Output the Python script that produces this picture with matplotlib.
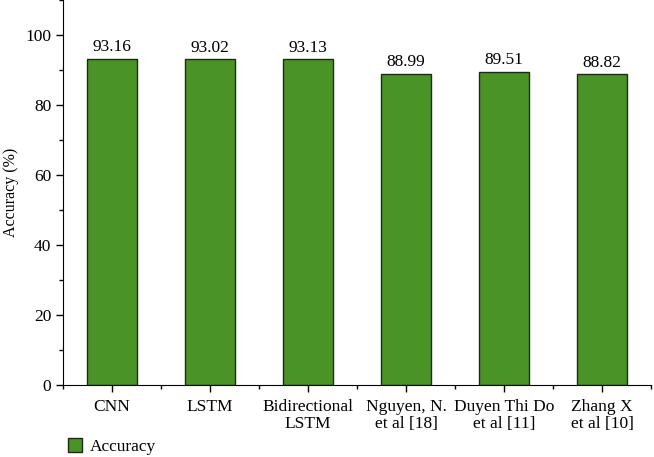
import matplotlib
matplotlib.use("Agg")
import matplotlib.pyplot as plt
from matplotlib.ticker import FixedLocator
from matplotlib.patches import Patch

categories = ["CNN", "LSTM", "Bidirectional\nLSTM", "Nguyen, N.\net al [18]",
              "Duyen Thi Do\net al [11]", "Zhang X\net al [10]"]
accuracy = [93.16, 93.02, 93.13, 88.99, 89.51, 88.82]
labels = ["93.16", "93.02", "93.13", "88.99", "89.51", "88.82"]

plt.rcParams['font.family'] = ['Liberation Serif', 'DejaVu Serif']
fig = plt.figure(figsize=(6.54, 4.57), dpi=100)
ax = fig.add_axes([63/654, 1-385/457, (651-63)/654, 385/457])

fs = 12.5
color = "#4a9326"
x = list(range(len(categories)))
ax.bar(x, accuracy, width=0.51, color=color, edgecolor="#1e2a14", linewidth=1.0)
for xi, v, lab in zip(x, accuracy, labels):
    ax.text(xi, v + 1.0, lab, ha="center", va="bottom", fontsize=fs)

ax.set_xlim(-0.5, len(categories) - 0.5)
ax.set_ylim(0, 110)
ax.yaxis.set_major_locator(FixedLocator([0, 20, 40, 60, 80, 100]))
ax.yaxis.set_minor_locator(FixedLocator([10, 30, 50, 70, 90, 110]))
ax.set_xticks(x)
ax.set_xticklabels(categories, fontsize=fs, linespacing=1.1)
ax.xaxis.set_minor_locator(FixedLocator([i - 0.5 for i in range(len(categories) + 1)]))
ax.tick_params(axis="both", which="major", direction="out", length=5, width=1, labelsize=fs)
ax.tick_params(axis="x", which="major", pad=5)
ax.tick_params(axis="both", which="minor", direction="out", length=3, width=1)
ax.spines["top"].set_visible(False)
ax.spines["right"].set_visible(False)
ax.set_ylabel("Accuracy (%)", fontsize=11.5)
ax.yaxis.set_label_coords(-44/588, 0.5)

fig.legend(handles=[Patch(facecolor=color, edgecolor="#1e2a14", label="Accuracy")],
           loc="lower left", bbox_to_anchor=(52/654, -0.03), frameon=False,
           fontsize=fs, handlelength=0.8, handleheight=0.8, handletextpad=0.5)

fig.savefig("out.png", dpi=100)
